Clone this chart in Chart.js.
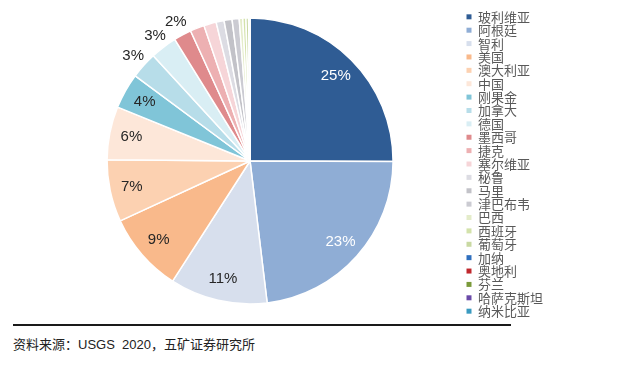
<!DOCTYPE html>
<html>
<head>
<meta charset="utf-8">
<script src="https://cdn.jsdelivr.net/npm/chart.js@4.4.1/dist/chart.umd.min.js"></script>
<style>
  html, body { margin: 0; padding: 0; background: #fff; }
  #wrap { position: relative; width: 640px; height: 370px; overflow: hidden; }
  #box { position: absolute; left: 0; top: 0; width: 640px; height: 322px; }
  #rule { position: absolute; left: 13px; top: 324px; width: 498px; height: 2px; background: #1a1a1a; }
  #src { position: absolute; left: 13px; top: 334px; font: 13px "Liberation Sans", "Noto Sans CJK SC", sans-serif; color: #222; white-space: pre; }
</style>
</head>
<body>
<div id="wrap">
  <div id="box"><canvas id="canvas"></canvas></div>
  <div id="rule"></div>
  <div id="src">资料来源：USGS  2020，五矿证券研究所</div>
</div>
<script>
var countries = ['玻利维亚', '阿根廷', '智利', '美国', '澳大利亚', '中国', '刚果金', '加拿大', '德国', '墨西哥',
  '捷克', '塞尔维亚', '秘鲁', '马里', '津巴布韦', '巴西', '西班牙', '葡萄牙', '加纳', '奥地利', '芬兰', '哈萨克斯坦', '纳米比亚'];
var shares = [25, 23, 11, 9, 7, 6, 4, 3, 3, 2,
  1.6, 1.4, 0.9, 0.9, 0.8, 0.4, 0.35, 0.3, 0.05, 0.04, 0.03, 0.02, 0.02];
var colors = ['#2f5c94', '#8fadd5', '#d7dfed', '#f9b98b', '#fcd1b1', '#fde7d9', '#80c5d8', '#b7dde9', '#d9eef4', '#df8a8c',
  '#edb0b2', '#f6d5d8', '#dcdce3', '#c2c2c8', '#cbcbd2', '#e4ecca', '#d3e2ab', '#c9d9a2', '#2f6fbe', '#c0282d', '#7a9a3a', '#6a4aa8', '#3a9ac0'];

var pctLabels = {
  id: 'pctLabels',
  afterDatasetsDraw: function(chart) {
    var ctx = chart.ctx;
    var meta = chart.getDatasetMeta(0);
    ctx.save();
    ctx.font = '15px "Liberation Sans", Arial, sans-serif';
    ctx.textAlign = 'center';
    ctx.textBaseline = 'middle';
    meta.data.forEach(function(arc, i) {
      var v = shares[i];
      if (v < 2) return;
      var mid = (arc.startAngle + arc.endAngle) / 2;
      var r = v >= 4 ? arc.outerRadius * 0.846 : arc.outerRadius * 1.1;
      ctx.fillStyle = i < 2 ? '#ffffff' : '#262626';
      ctx.fillText(Math.round(v) + '%', arc.x + Math.cos(mid) * r, arc.y + Math.sin(mid) * r);
    });
    ctx.restore();
  }
};

var ctxL = document.getElementById('canvas').getContext('2d');
var mychart = new Chart(ctxL, {
  type: 'pie',
  data: {
    labels: countries,
    datasets: [{
      data: shares,
      backgroundColor: colors,
      borderColor: '#ffffff',
      borderWidth: 1.5,
      radius: 143
    }]
  },
  options: {
    responsive: true,
    maintainAspectRatio: false,
    animation: false,
    layout: { padding: { left: 34, right: 87, top: 0, bottom: 0 } },
    plugins: {
      tooltip: { enabled: false },
      legend: {
        position: 'right',
        align: 'center',
        title: { display: true, text: '', font: { size: 4, lineHeight: 1 }, padding: 1 },
        labels: {
          boxWidth: 5,
          boxHeight: 5,
          padding: 0.38,
          color: '#595959',
          font: { size: 13, family: '"Noto Sans CJK SC", sans-serif' },
          generateLabels: function(chart) {
            var items = Chart.overrides.pie.plugins.legend.labels.generateLabels(chart);
            items.forEach(function(it) { it.lineWidth = 0; it.strokeStyle = it.fillStyle; });
            return items;
          }
        }
      }
    }
  },
  plugins: [pctLabels]
});
</script>
</body>
</html>
